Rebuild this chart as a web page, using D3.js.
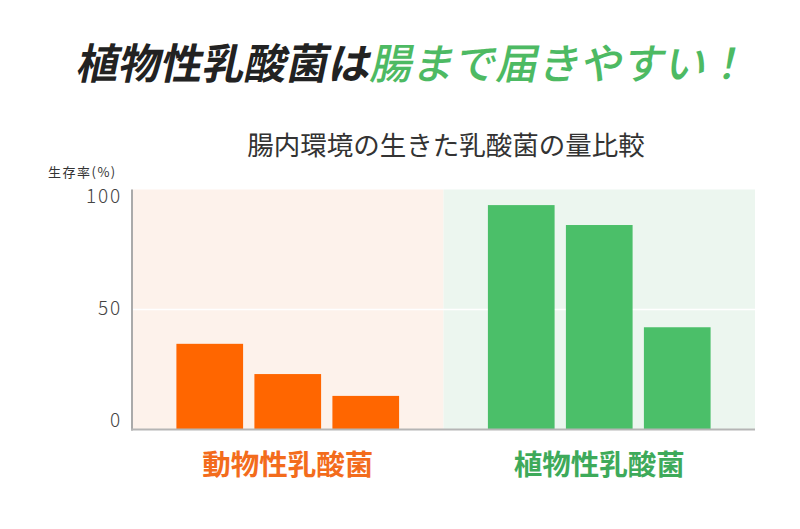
<!DOCTYPE html>
<html><head><meta charset="utf-8">
<script src="https://cdn.jsdelivr.net/npm/d3@7/dist/d3.min.js"></script>
<style>body{margin:0;background:#fff}svg{display:block}</style>
</head><body><svg id="c" width="800" height="529"></svg>
<script>
const groups = ["動物性乳酸菌", "植物性乳酸菌"];
const items = ["a", "b", "c"];
const animalValues = [35.7, 23.1, 14.0];
const plantValues = [93.5, 85.2, 42.6];
const yTicks = [0, 50, 100];
const titleBlack = "植物性乳酸菌は";
const titleGreen = "腸まで届きやすい！";
const subtitle = "腸内環境の生きた乳酸菌の量比較";
const yLabel = "生存率(%)";

const seriesValues = [animalValues, plantValues];
const bgColors = ["#fdf2eb", "#ecf6ef"];
const barColors = ["#ff6600", "#4bbf69"];
const labelColors = ["#f36c1c", "#3eaa5a"];

const svg = d3.select("#c");
const m = {left: 132, right: 755, top: 189.5, bottom: 429.5};

const x = d3.scaleBand().domain(groups).range([m.left, m.right]).padding(0);
const y = d3.scaleLinear().domain([0, 100]).range([m.bottom, m.top]);
const inner = d3.scaleBand().domain(items).range([0, 234]).paddingInner(0.145).paddingOuter(0.0725);

// backgrounds
svg.selectAll("rect.bg").data(groups).join("rect")
  .attr("x", d => x(d)).attr("y", y(100))
  .attr("width", x.bandwidth()).attr("height", y(0) - y(100))
  .attr("fill", (d, i) => bgColors[i]);

// gridline
svg.append("line").attr("x1", m.left).attr("x2", m.right)
  .attr("y1", y(50)).attr("y2", y(50))
  .attr("stroke", "#fff").attr("stroke-width", 1.5);

// bars
groups.forEach((g, gi) => {
  const off = x(g) + x.bandwidth() / 2 - 117;
  svg.selectAll("rect.b" + gi).data(seriesValues[gi]).join("rect")
    .attr("x", (d, i) => off + inner(items[i]))
    .attr("width", inner.bandwidth())
    .attr("y", d => y(d))
    .attr("height", d => y(0) - y(d))
    .attr("fill", barColors[gi]);
  svg.append("text").attr("x", x(g) + x.bandwidth() / 2).attr("y", 475)
    .attr("text-anchor", "middle")
    .attr("font-family", "Noto Sans CJK JP").attr("font-weight", 700)
    .attr("font-size", 28.5).attr("fill", labelColors[gi]).text(g);
});

// axes lines
svg.append("line").attr("x1", m.left).attr("x2", m.left)
  .attr("y1", y(100)).attr("y2", y(0) + 1)
  .attr("stroke", "#aaa").attr("stroke-width", 2);
svg.append("line").attr("x1", m.left - 1).attr("x2", m.right)
  .attr("y1", y(0)).attr("y2", y(0))
  .attr("stroke", "#b5b5b5").attr("stroke-width", 2);

// tick labels
const yl = d3.scaleLinear().domain([0, 100]).range([y(0) - 9.5, y(100) + 7]);
svg.selectAll("text.tick").data(yTicks).join("text")
  .attr("x", 122).attr("y", d => yl(d))
  .attr("dy", "0.36em").attr("text-anchor", "end")
  .attr("font-family", "Noto Sans CJK JP").attr("font-weight", 300)
  .attr("font-size", 19).attr("letter-spacing", 1.8).attr("fill", "#444")
  .text(d => d);

// y label
svg.append("text").attr("x", 48).attr("y", 177)
  .attr("font-family", "Noto Sans CJK JP").attr("font-size", 13)
  .attr("letter-spacing", 1.5)
  .attr("fill", "#333").text(yLabel);

// subtitle
svg.append("text").attr("x", 446).attr("y", 155)
  .attr("text-anchor", "middle")
  .attr("font-family", "Noto Sans CJK JP").attr("font-weight", 400)
  .attr("font-size", 26.5).attr("fill", "#333").text(subtitle);

// main title
const t = svg.append("text")
  .attr("transform", "translate(411,79) skewX(-12)")
  .attr("text-anchor", "middle")
  .attr("font-family", "Noto Sans CJK JP").attr("font-weight", 700)
  .attr("font-size", 42);
t.append("tspan").attr("fill", "#222").text(titleBlack);
t.append("tspan").attr("fill", "#4dba63").attr("font-weight", 500).text(titleGreen);
</script></body></html>
